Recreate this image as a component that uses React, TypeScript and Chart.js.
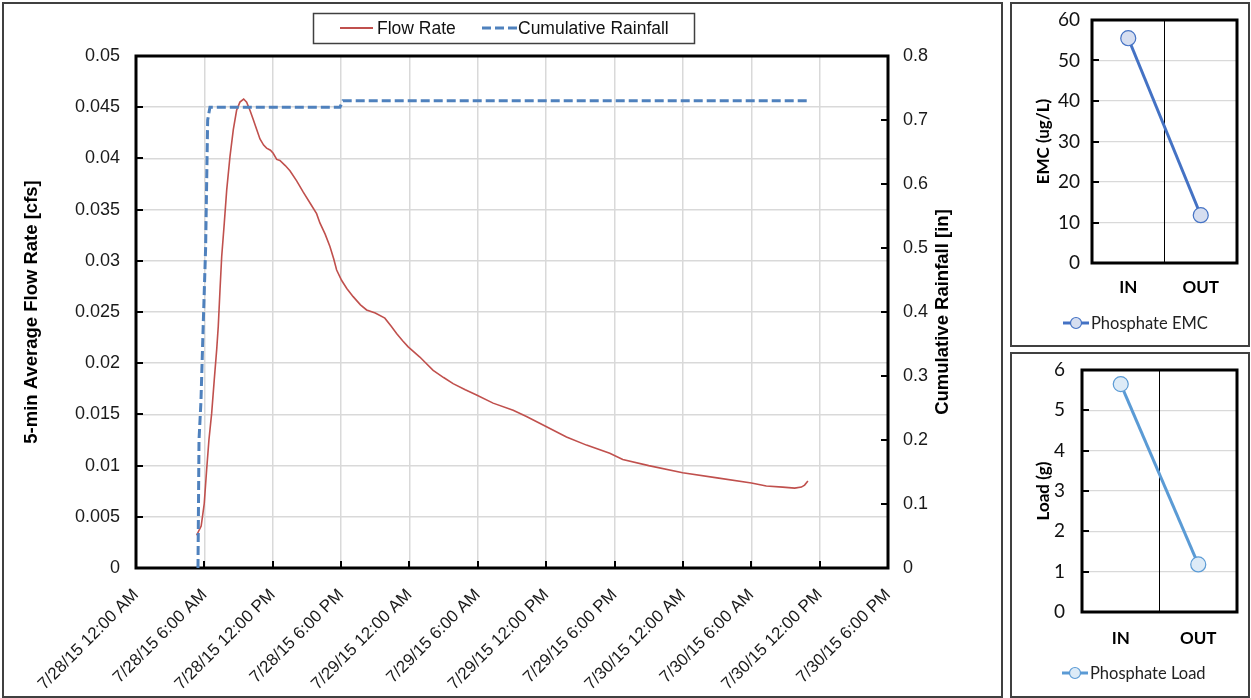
import React, { useEffect, useRef } from 'react';
import { Chart, registerables } from 'chart.js';

Chart.register(...registerables);

// ---- Hydrograph: x values are hours after 7/28/15 12:00 AM ----
const timeTickLabels = [
  '7/28/15 12:00 AM', '7/28/15 6:00 AM', '7/28/15 12:00 PM', '7/28/15 6:00 PM',
  '7/29/15 12:00 AM', '7/29/15 6:00 AM', '7/29/15 12:00 PM', '7/29/15 6:00 PM',
  '7/30/15 12:00 AM', '7/30/15 6:00 AM', '7/30/15 12:00 PM', '7/30/15 6:00 PM',
];
const tickStepHours = 6;
const hoursMax = 66;

const flowHours = [
  5.32, 5.72, 5.99, 6.2, 6.4, 6.64, 6.87, 7.08, 7.22, 7.37, 7.52, 7.75, 7.96, 8.25,
  8.54, 8.83, 9.12, 9.45, 9.71, 10.0, 10.29, 10.6, 10.88, 11.2, 11.46, 11.8, 12.04,
  12.35, 12.63, 13.1, 13.51, 14.1, 14.68, 15.3, 15.85, 16.14, 16.6, 17.02, 17.35,
  17.61, 18.04, 18.5, 19.06, 19.7, 20.24, 21.0, 21.84, 22.4, 22.87, 23.4, 23.89,
  24.91, 26.08, 27.0, 27.83, 28.9, 29.89, 31.34, 33.1, 34.27, 36.03, 37.78, 39.54,
  41.58, 42.72, 45.0, 47.98, 51.0, 54.01, 55.32, 56.75, 57.81, 58.4, 58.68, 58.97,
];
const flowRateCfs = [
  0.0032, 0.0041, 0.0063, 0.0096, 0.0125, 0.0151, 0.0184, 0.0213, 0.0236, 0.0271,
  0.0304, 0.0337, 0.0369, 0.0402, 0.0428, 0.0447, 0.0455, 0.0458, 0.0455, 0.0447,
  0.0438, 0.0428, 0.0419, 0.0413, 0.041, 0.0408, 0.0405, 0.0399, 0.0398, 0.0393,
  0.0388, 0.0378, 0.0367, 0.0356, 0.0346, 0.0337, 0.0326, 0.0314, 0.0302, 0.0291,
  0.0281, 0.0273, 0.0265, 0.0257, 0.0252, 0.0249, 0.0244, 0.0236, 0.0229, 0.0222,
  0.0216, 0.0206, 0.0193, 0.0186, 0.018, 0.0174, 0.0169, 0.0161, 0.0154, 0.0148,
  0.0138, 0.0128, 0.012, 0.0112, 0.0106, 0.01, 0.0093, 0.0088, 0.0083, 0.008,
  0.0079, 0.0078, 0.0079, 0.0081, 0.0085,
];
const flowMax = 0.05;

const rainHours = [5.44, 5.53, 5.7, 5.9, 6.11, 6.29, 6.49, 17.9, 18.16, 59.1];
const rainCumulativeIn = [0, 0.2, 0.26, 0.38, 0.5, 0.7, 0.72, 0.72, 0.73, 0.73];
const rainMax = 0.8;

// ---- Phosphate summary ----
const sites = ['IN', 'OUT'];
const phosphateEmc = [55.5, 11.8];
const phosphateLoad = [5.65, 1.18];

const ARIAL = 'Liberation Sans, Arial, sans-serif';
const CALIBRI = 'Lato, Carlito, Calibri, sans-serif';
const GRID = '#D9D9D9';

const toPoints = (xs: number[], ys: number[]) => xs.map((x, i) => ({ x, y: ys[i] }));

// Closed outline along the axis limits, drawn as a heavy black line series.
function frameSeries(x0: number, x1: number, y0: number, y1: number, xAxisID: string, yAxisID: string) {
  return {
    label: 'plot frame',
    data: [
      { x: x0, y: y0 },
      { x: x1, y: y0 },
      { x: x1, y: y1 },
      { x: x0, y: y1 },
      { x: x0, y: y0 },
    ],
    borderColor: '#000',
    borderWidth: 3,
    borderJoinStyle: 'miter',
    borderCapStyle: 'square',
    pointRadius: 0,
    tension: 0,
    clip: false,
    xAxisID,
    yAxisID,
    order: 10,
  };
}

// Short inward tick marks along the plot edges.
function paintTicks(chart: any, marks: { scale: string; side: string }[]) {
  const ctx = chart.ctx;
  const a = chart.chartArea;
  ctx.save();
  ctx.fillStyle = '#000';
  marks.forEach((m) => {
    const s = chart.scales[m.scale];
    s.ticks.forEach((t: any) => {
      const p = Math.round(s.getPixelForValue(t.value));
      if (m.side === 'bottom') ctx.fillRect(p - 1, a.bottom - 7, 2, 7);
      else if (m.side === 'left') ctx.fillRect(a.left, p - 1, 7, 2);
      else ctx.fillRect(a.right - 7, p - 1, 7, 2);
    });
  });
  ctx.restore();
}

// Boxed legend and the secondary axis title (reads bottom to top).
const hydroDecor = {
  id: 'hydroDecor',
  afterDraw(chart: any) {
    paintTicks(chart, [
      { scale: 'x', side: 'bottom' },
      { scale: 'y', side: 'left' },
      { scale: 'y1', side: 'right' },
    ]);
    const ctx = chart.ctx;
    const a = chart.chartArea;
    const flowDs = chart.data.datasets[0];
    const rainDs = chart.data.datasets[1];
    ctx.save();
    ctx.strokeStyle = '#404040';
    ctx.lineWidth = 1.5;
    ctx.strokeRect(309.5, 9.5, 381, 30);
    ctx.font = `17.5px ${ARIAL}`;
    ctx.fillStyle = '#111';
    ctx.textBaseline = 'middle';
    ctx.textAlign = 'left';
    ctx.beginPath();
    ctx.strokeStyle = flowDs.borderColor;
    ctx.lineWidth = 2;
    ctx.moveTo(336, 24);
    ctx.lineTo(369, 24);
    ctx.stroke();
    ctx.fillText(flowDs.label, 373, 25);
    ctx.beginPath();
    ctx.strokeStyle = rainDs.borderColor;
    ctx.lineWidth = 3;
    ctx.setLineDash([9, 4]);
    ctx.moveTo(478, 24);
    ctx.lineTo(513, 24);
    ctx.stroke();
    ctx.setLineDash([]);
    ctx.fillText(rainDs.label, 514, 25);
    ctx.translate(939, (a.top + a.bottom) / 2);
    ctx.rotate(-Math.PI / 2);
    ctx.textAlign = 'center';
    ctx.font = `bold 18.5px ${ARIAL}`;
    ctx.fillStyle = '#000';
    ctx.fillText('Cumulative Rainfall [in]', 0, 0);
    ctx.restore();
  },
};

// Legend entry: line with a circle marker, then the series name.
function makeSummaryDecor(legendX: number, legendY: number) {
  return {
    id: 'summaryDecor',
    afterDraw(chart: any) {
      paintTicks(chart, [{ scale: 'y', side: 'left' }]);
      const ctx = chart.ctx;
      const ds = chart.data.datasets[0];
      ctx.save();
      ctx.beginPath();
      ctx.strokeStyle = ds.borderColor;
      ctx.lineWidth = 3;
      ctx.moveTo(legendX, legendY);
      ctx.lineTo(legendX + 26, legendY);
      ctx.stroke();
      ctx.beginPath();
      ctx.arc(legendX + 13, legendY, 5.5, 0, Math.PI * 2);
      ctx.fillStyle = ds.pointBackgroundColor;
      ctx.fill();
      ctx.lineWidth = 1.2;
      ctx.stroke();
      ctx.font = `16.5px ${CALIBRI}`;
      ctx.fillStyle = '#222';
      ctx.textBaseline = 'middle';
      ctx.textAlign = 'left';
      ctx.fillText(ds.label, legendX + 28, legendY + 1);
      ctx.restore();
    },
  };
}

function summaryConfig(opts: {
  label: string;
  values: number[];
  line: string;
  fill: string;
  yMax: number;
  yStep: number;
  yTitle: string;
  yWidth: number;
  yPad: number;
  top: number;
  xHeight: number;
  xPad: number;
  legendX: number;
  legendY: number;
}): any {
  return {
    type: 'line',
    data: {
      labels: sites,
      datasets: [
        {
          label: opts.label,
          data: opts.values,
          borderColor: opts.line,
          borderWidth: 3,
          pointRadius: 7.5,
          pointBackgroundColor: opts.fill,
          pointBorderColor: opts.line,
          pointBorderWidth: 1.2,
          tension: 0,
          clip: false,
        },
        frameSeries(-0.5, sites.length - 0.5, 0, opts.yMax, 'xFrame', 'y'),
      ],
    },
    options: {
      responsive: false,
      animation: false,
      layout: { padding: { top: opts.top, right: 12, left: 0, bottom: 0 } },
      plugins: { legend: { display: false }, tooltip: { enabled: false } },
      scales: {
        x: {
          type: 'category',
          offset: true,
          afterFit: (s: any) => { s.height = opts.xHeight; },
          grid: { offset: true, z: 0, color: '#000', lineWidth: 1, drawTicks: false },
          border: { display: false },
          ticks: { padding: opts.xPad, color: '#000', font: { family: CALIBRI, size: 17, weight: 'bold' } },
        },
        xFrame: {
          type: 'linear',
          display: false,
          min: -0.5,
          max: sites.length - 0.5,
        },
        y: {
          min: 0,
          max: opts.yMax,
          afterFit: (s: any) => {
            s.width = opts.yWidth;
            s.paddingTop = 0;
            s.paddingBottom = 0;
          },
          ticks: { stepSize: opts.yStep, padding: opts.yPad, color: '#111', font: { family: CALIBRI, size: 19 } },
          grid: { color: GRID, lineWidth: 1.2, drawTicks: false },
          border: { display: false },
          title: {
            display: true,
            text: opts.yTitle,
            color: '#000',
            font: { family: CALIBRI, size: 17, weight: 'bold' },
            padding: { top: 21, bottom: 0 },
          },
        },
      },
    },
    plugins: [makeSummaryDecor(opts.legendX, opts.legendY)],
  };
}

export default function App() {
  const mainRef = useRef<HTMLCanvasElement>(null);
  const emcRef = useRef<HTMLCanvasElement>(null);
  const loadRef = useRef<HTMLCanvasElement>(null);

  useEffect(() => {
    const charts: Chart[] = [];

    charts.push(
      new Chart(mainRef.current as HTMLCanvasElement, {
        type: 'line',
        data: {
          datasets: [
            {
              label: 'Flow Rate',
              data: toPoints(flowHours, flowRateCfs),
              borderColor: '#C0504D',
              borderWidth: 1.6,
              pointRadius: 0,
              tension: 0,
              yAxisID: 'y',
              order: 2,
            },
            {
              label: 'Cumulative Rainfall',
              data: toPoints(rainHours, rainCumulativeIn),
              borderColor: '#4F81BD',
              borderWidth: 3,
              borderDash: [9, 4],
              pointRadius: 0,
              tension: 0,
              yAxisID: 'y1',
              order: 1,
            },
            frameSeries(0, hoursMax, 0, flowMax, 'x', 'y') as any,
          ],
        },
        options: {
          responsive: false,
          animation: false,
          layout: { padding: { top: 52, left: 0, right: 0, bottom: 0 } },
          plugins: { legend: { display: false }, tooltip: { enabled: false } },
          scales: {
            x: {
              type: 'linear',
              min: 0,
              max: hoursMax,
              afterFit: (s: any) => { s.height = 126; },
              ticks: {
                stepSize: tickStepHours,
                autoSkip: false,
                minRotation: 45,
                maxRotation: 45,
                padding: 17,
                color: '#1a1a1a',
                font: { family: ARIAL, size: 17 },
                callback: (v: any) => timeTickLabels[Math.round(Number(v) / tickStepHours)],
              },
              grid: { color: GRID, lineWidth: 1.5, drawTicks: false },
              border: { display: false },
            },
            y: {
              position: 'left',
              min: 0,
              max: flowMax,
              afterFit: (s: any) => { s.width = 132; },
              ticks: {
                stepSize: 0.005,
                padding: 16,
                color: '#1a1a1a',
                font: { family: ARIAL, size: 18 },
                callback: (v: any) => String(Number(Number(v).toFixed(3))),
              },
              grid: { color: GRID, lineWidth: 1.5, drawTicks: false },
              border: { display: false },
              title: {
                display: true,
                text: '5-min Average Flow Rate [cfs]',
                color: '#000',
                font: { family: ARIAL, size: 18.5, weight: 'bold' },
                padding: { top: 17, bottom: 0 },
              },
            },
            y1: {
              position: 'right',
              min: 0,
              max: rainMax,
              afterFit: (s: any) => { s.width = 112; },
              ticks: {
                stepSize: 0.1,
                padding: 15,
                color: '#1a1a1a',
                font: { family: ARIAL, size: 18 },
                callback: (v: any) => String(Number(Number(v).toFixed(1))),
              },
              grid: { drawOnChartArea: false, drawTicks: false },
              border: { display: false },
            },
          },
        } as any,
        plugins: [hydroDecor],
      })
    );

    charts.push(
      new Chart(
        emcRef.current as HTMLCanvasElement,
        summaryConfig({
          label: 'Phosphate EMC',
          values: phosphateEmc,
          line: '#4472C4',
          fill: '#D6DEF0',
          yMax: 60,
          yStep: 10,
          yTitle: 'EMC (ug/L)',
          yWidth: 80,
          yPad: 12,
          top: 16,
          xHeight: 82,
          xPad: 14,
          legendX: 51,
          legendY: 319,
        })
      )
    );

    charts.push(
      new Chart(
        loadRef.current as HTMLCanvasElement,
        summaryConfig({
          label: 'Phosphate Load',
          values: phosphateLoad,
          line: '#5B9BD5',
          fill: '#DDEBF7',
          yMax: 6,
          yStep: 1,
          yTitle: 'Load (g)',
          yWidth: 70,
          yPad: 17,
          top: 17,
          xHeight: 84,
          xPad: 16,
          legendX: 50,
          legendY: 320,
        })
      )
    );

    return () => charts.forEach((c) => c.destroy());
  }, []);

  const panel = (left: number, top: number, width: number, height: number): React.CSSProperties => ({
    position: 'absolute',
    left,
    top,
    width,
    height,
    boxSizing: 'border-box',
    border: '2px solid #404040',
    background: '#fff',
  });
  const canvasPos = (left: number, top: number): React.CSSProperties => ({
    position: 'absolute',
    left,
    top,
    display: 'block',
  });

  return (
    <div style={{ position: 'fixed', left: 0, top: 0, width: 1251, height: 698, background: '#fff', overflow: 'hidden' }}>
      <div style={panel(2, 2, 1001, 696)} />
      <div style={panel(1010, 2, 240, 345)} />
      <div style={panel(1010, 352, 240, 346)} />
      <canvas ref={mainRef} width={996} height={690} style={canvasPos(4, 4)} />
      <canvas ref={emcRef} width={237} height={341} style={canvasPos(1012, 4)} />
      <canvas ref={loadRef} width={237} height={343} style={canvasPos(1012, 353)} />
    </div>
  );
}
